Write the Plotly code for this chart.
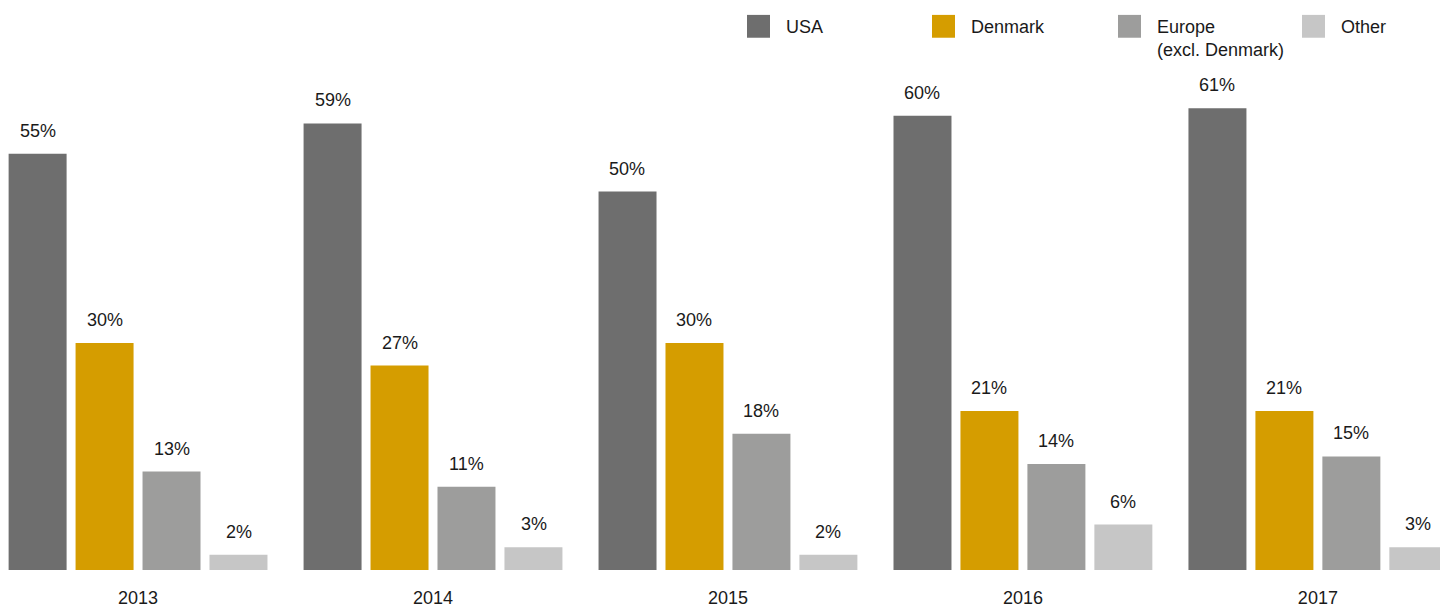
import plotly.graph_objects as go

years = ['2013', '2014', '2015', '2016', '2017']
usa = [55, 59, 50, 60, 61]
denmark = [30, 27, 30, 21, 21]
europe = [13, 11, 18, 14, 15]
other = [2, 3, 2, 6, 3]

series_names = ['USA', 'Denmark', 'Europe<br>(excl. Denmark)', 'Other']
series_colors = ['#6e6e6e', '#d59d00', '#9d9d9c', '#c6c6c6']
series_values = [usa, denmark, europe, other]

FONT = 'Liberation Sans, Arial, Helvetica, sans-serif'
TXT = '#1a1a1a'

fig = go.Figure()
for name, color, vals in zip(series_names, series_colors, series_values):
    fig.add_trace(go.Bar(x=years, y=vals, name=name, marker_color=color,
                         marker_line_width=0, showlegend=False, hoverinfo='x+y'))

# value labels above each bar (category axis -> x is the category index)
annotations = []
for j, vals in enumerate(series_values):
    for i, v in enumerate(vals):
        annotations.append(dict(x=i, y=v, xref='x', yref='y', text=f'{v}%',
                                showarrow=False, xshift=(j - 1.5) * 67, yshift=23,
                                yanchor='middle', font=dict(size=18, color=TXT, family=FONT)))

# custom legend with large squares
shapes = []
legend_x = [747, 932, 1118, 1302]
for lx, name, color in zip(legend_x, series_names, series_colors):
    shapes.append(dict(type='rect', xref='paper', yref='paper',
                       x0=lx / 1440, x1=(lx + 23) / 1440,
                       y0=1 - 38 / 574, y1=1 - 15 / 574,
                       fillcolor=color, line_width=0))
    annotations.append(dict(x=(lx + 37) / 1440, y=1 - 15 / 574, xref='paper', yref='paper',
                            text=name, showarrow=False, xanchor='left', yanchor='top',
                            align='left', font=dict(size=18, color=TXT, family=FONT)))

fig.update_layout(
    width=1440, height=608,
    margin=dict(l=0, r=0, t=0, b=34),
    barmode='group', bargap=0.092, bargroupgap=0.134,
    plot_bgcolor='white', paper_bgcolor='white',
    font=dict(family=FONT, size=18, color=TXT),
    xaxis=dict(type='category', range=[-0.468, 4.414], showgrid=False, zeroline=False,
               showline=False, ticks='', ticklabelstandoff=15, tickfont=dict(size=18, color=TXT)),
    yaxis=dict(range=[0, 75.3], visible=False),
    shapes=shapes, annotations=annotations,
)

fig.write_html('out.html', config={'displayModeBar': False},
               post_script="document.body.style.margin='0px';")
